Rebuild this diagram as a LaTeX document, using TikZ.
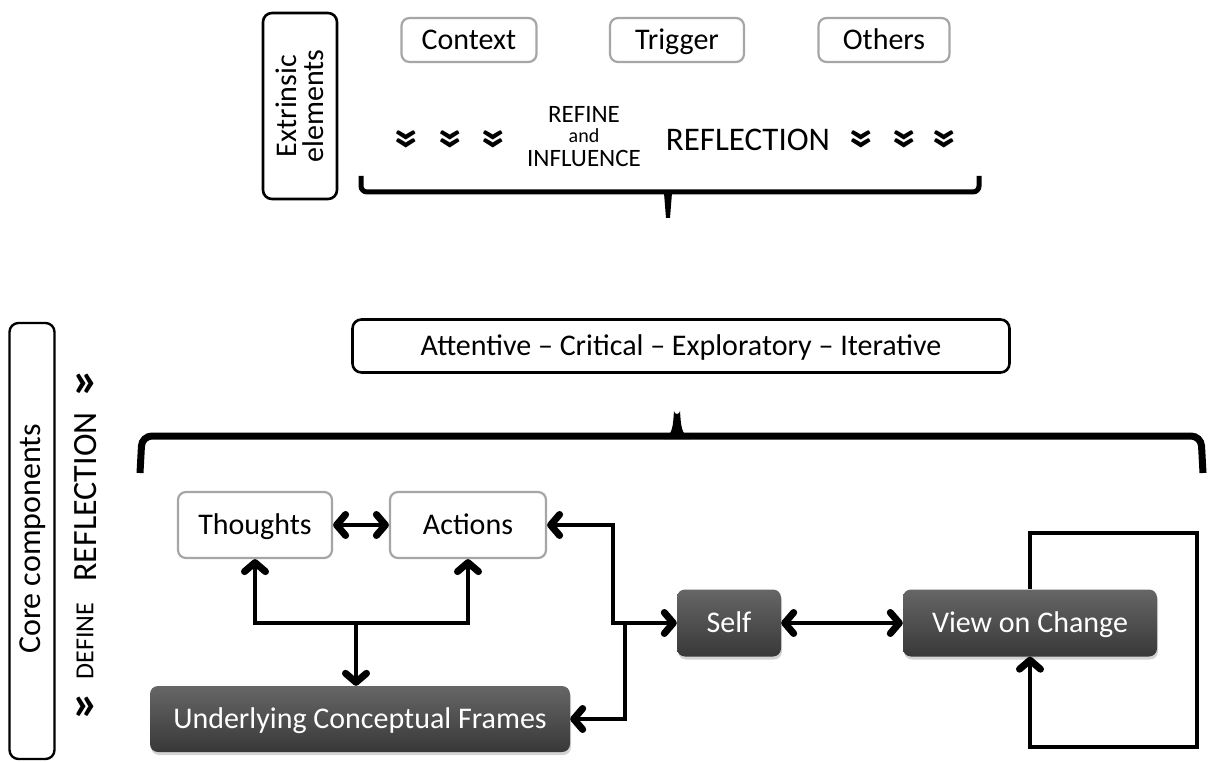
\documentclass[tikz,border=0pt]{standalone}
\usepackage{fontspec}
\setmainfont{Carlito}
\usetikzlibrary{arrows.meta,shadows}

\begin{document}
\begin{tikzpicture}[x=1pt,y=-1pt,
  lbl/.style={font=\fontsize{30}{34}\selectfont, text height=19.5pt, text depth=0pt},
  litebox/.style={draw=black!35, line width=2.2pt, rounded corners=8pt, fill=white,
    inner sep=0pt, lbl},
  blackbox/.style={draw=black, line width=2.6pt, rounded corners=9pt, fill=white,
    inner sep=0pt, lbl},
  darkbox/.style={draw=none, rounded corners=8pt, top color=black!60, bottom color=black!78,
    text=white, inner sep=0pt, lbl,
    drop shadow={opacity=0.35, shadow xshift=1pt, shadow yshift=-3pt}},
  barb/.tip={Straight Barb[length=9pt,width=21pt,line width=2.5pt 1,round]},
  conn/.style={line width=4.5pt, barb-barb},
  toarrow/.style={line width=4.5pt, -barb},
  chev/.style={font=\bfseries\fontsize{50}{50}\selectfont, inner sep=0pt},
  plain/.style={inner sep=0pt},
]
\useasboundingbox (0,0) rectangle (1219,762);

% ---------- extrinsic elements ----------
\node[blackbox, minimum width=74pt, minimum height=186pt] (ext) at (300,106) {};
\node[plain, rotate=90, align=center, font=\fontsize{30}{27}\selectfont] (extlbl) at (300,106)
  {Extrinsic\\elements};

\node[litebox, minimum width=135pt, minimum height=44pt] (context) at (469,40) {Context};
\node[litebox, minimum width=134pt, minimum height=44pt] (trigger) at (677,40) {Trigger};
\node[litebox, minimum width=131pt, minimum height=44pt] (others) at (884,40) {Others};

\foreach \cx [count=\i] in {405,449,492,860,903,943}
  \node[chev, rotate=-90] (ch\i) at (\cx,140) {»};

\node[plain, align=center, font=\fontsize{25}{20}\selectfont] (refine) at (584,137)
  {REFINE\\[0pt]{\fontsize{20}{20}\selectfont and}\\[4pt]INFLUENCE};
\node[plain, font=\fontsize{33}{33}\selectfont] (refl1) at (748,140) {REFLECTION};

% upper brace
\draw[line width=5pt, rounded corners=6pt] (361,176) -- (361,192) -- (979,192) -- (979,176);
\fill (664,193) -- (672,193) -- (670,218) -- (666,218) -- cycle;

% ---------- core components ----------
\node[blackbox, minimum width=657pt, minimum height=53pt] (attr) at (681,346)
  {Attentive -- Critical -- Exploratory -- Iterative};

% lower brace
\draw[line width=7pt, rounded corners=10pt] (140,473) -- (142,436) -- (1201,436) -- (1203,473);
\fill (664,439) .. controls (673,434) and (673,425) .. (674,411)
  arc[start angle=180, end angle=0, radius=3] .. controls (681,425) and (681,434) .. (690,439) -- cycle;

\node[blackbox, minimum width=45pt, minimum height=436pt, line width=2.4pt] (core) at (32,541) {};
\node[plain, rotate=90, font=\fontsize{32}{32}\selectfont] (corelbl) at (33,539) {Core components};

\node[chev] (dq1) at (86,385) {»};
\node[chev] (dq2) at (86,708) {»};
\node[plain, rotate=90, font=\fontsize{26}{26}\selectfont] (define) at (85,641) {DEFINE};
\node[plain, rotate=90, font=\fontsize{34}{34}\selectfont] (refl2) at (86,497) {REFLECTION};

% boxes of the lower diagram
\node[litebox, minimum width=154pt, minimum height=66pt] (thoughts) at (255,525) {Thoughts};
\node[litebox, minimum width=156pt, minimum height=66pt] (actions) at (468,525) {Actions};
\node[darkbox, minimum width=104pt, minimum height=67pt] (self) at (729,623) {Self};
\node[darkbox, minimum width=254pt, minimum height=67pt] (view) at (1030,623) {View on Change};
\node[darkbox, minimum width=420pt, minimum height=66pt] (ucf) at (360,719) {Underlying Conceptual Frames};

% connectors
\coordinate (tj) at (356,623);
\coordinate (sj) at (613,623);
\coordinate (uj) at (625,623);
\coordinate (lp1) at (1197,533);
\coordinate (lp2) at (1197,747);

\draw[conn] (thoughts.east) -- (actions.west);
\draw[conn] (thoughts.south) |- (tj) -| (actions.south);
\draw[toarrow] (tj) -- (ucf.north -| tj);
\draw[conn] (actions.east) -| (sj) -- (self.west);
\draw[toarrow] (uj) |- (ucf.east);
\draw[conn] (self.east) -- (view.west);
\draw[toarrow] (view.north) |- (lp1) -- (lp2) -| (view.south);
\end{tikzpicture}
\end{document}
